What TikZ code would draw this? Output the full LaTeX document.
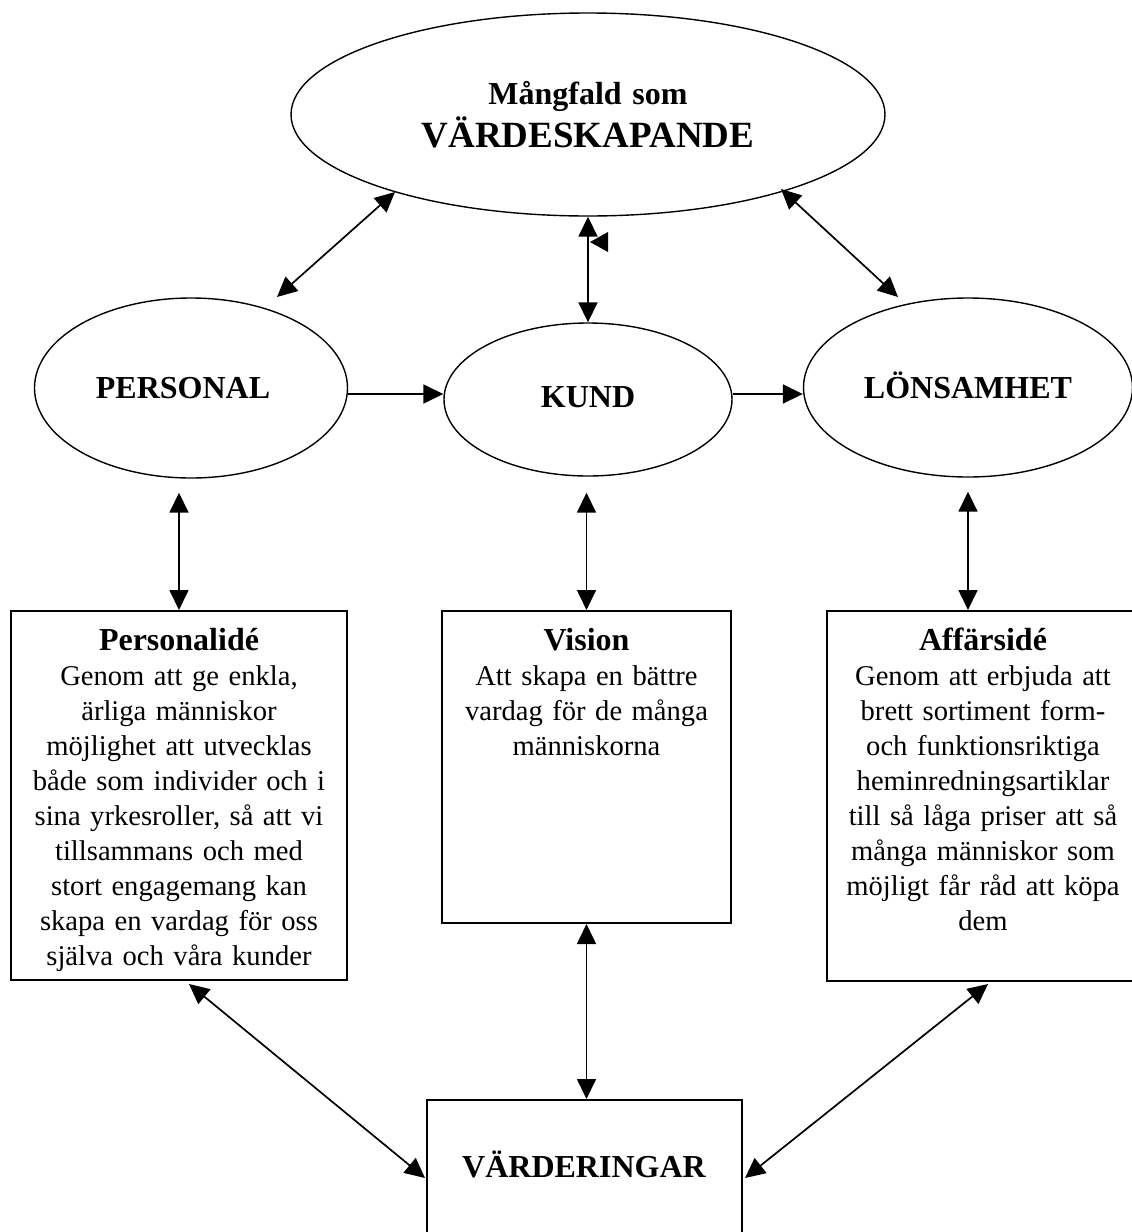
\documentclass[tikz,border=0pt]{standalone}
\usepackage{fontspec}
\setmainfont{Liberation Serif}
\usetikzlibrary{arrows.meta,shapes.geometric,calc}
\tikzset{
  ell/.style={ellipse, draw, line width=1.4pt, inner sep=0pt, font=\fontsize{32}{35}\selectfont\bfseries},
  boxnode/.style={rectangle, draw, line width=2pt, inner sep=0pt},
  boxtext/.style={anchor=base, text width=340pt, align=center, inner sep=0pt, font=\fontsize{28.6}{35}\selectfont},
  oneway/.style={line width=1.7pt, -{Triangle[length=20pt,width=19pt]}},
  twoway/.style={line width=1.7pt, {Triangle[length=20pt,width=19pt]}-{Triangle[length=20pt,width=19pt]}}
}
\newcommand{\ttl}[1]{{\fontsize{32}{35}\selectfont\bfseries #1}}
\begin{document}
\begin{tikzpicture}[x=1pt,y=-1pt]
\useasboundingbox (0,0) rectangle (1132,1232);
\clip (0,0) rectangle (1132,1232);
\fill[white] (0,0) rectangle (1132,1232);

% ellipses
\node[ell, minimum width=529pt, minimum height=203pt, text width=420pt, align=center, font=\fontsize{32}{43}\selectfont\bfseries] (top) at (588,114.5)
  {Mångfald som\\{\fontsize{37}{43}\selectfont VÄRDESKAPANDE}};
\node[ell, minimum width=313pt, minimum height=180pt, text height=21pt, text depth=0pt] (personal) at (191,388) {PERSONAL\rule{16pt}{0pt}};
\node[ell, minimum width=288pt, minimum height=153pt, text height=21pt, text depth=6pt] (kund) at (588,399.5) {KUND};
\node[ell, minimum width=329pt, minimum height=179pt, text height=21pt, text depth=0pt] (lons) at (968,387.5) {LÖNSAMHET};

% boxes
\node[boxnode, minimum width=336pt, minimum height=369pt] (pbox) at (179,795.5) {};
\node[boxnode, minimum width=289pt, minimum height=312pt] (vis) at (586.5,767) {};
\node[boxnode, minimum width=313pt, minimum height=370pt] (abox) at (983.5,796) {};
\node[boxnode, minimum width=315pt, minimum height=160pt] (vbox) at (584.5,1180) {};

% box texts
\node[boxtext] (ptext) at (179,650) {\ttl{Personalidé}\\Genom att ge enkla,\\ärliga människor\\möjlighet att utvecklas\\både som individer och i\\sina yrkesroller, så att vi\\tillsammans och med\\stort engagemang kan\\skapa en vardag för oss\\själva och våra kunder};
\node[boxtext] (vtext) at (586.5,650) {\ttl{Vision}\\Att skapa en bättre\\vardag för de många\\människorna};
\node[boxtext] (atext) at (983,650) {\ttl{Affärsidé}\\Genom att erbjuda att\\brett sortiment form-\\och funktionsriktiga\\heminredningsartiklar\\till så låga priser att så\\många människor som\\möjligt får råd att köpa\\dem};
\node[anchor=base, inner sep=0pt, font=\fontsize{32}{35}\selectfont\bfseries] (vlabel) at (584,1177) {VÄRDERINGAR};

% connectors
\draw[twoway] ($(personal.center)+(86,-91)$) -- ($(top.center)+(-193,77.5)$);
\draw[twoway] ($(top.center)+(193,74.5)$) -- ($(lons.center)+(-70,-90.5)$);
\draw[twoway] (kund.north) -- (kund.north |- top.south);
\fill (590,242) -- (608,232) -- (608,252) -- cycle;

\draw[oneway] ([yshift=-6pt]personal.east) -- ([yshift=-6pt]personal.east -| kund.west);
\draw[oneway] ([yshift=5.5pt]kund.east) -- ([yshift=5.5pt]kund.east -| lons.west);

\draw[twoway, shorten >=14pt] (pbox.north) -- (pbox.north |- personal.south);
\draw[twoway, shorten >=16pt] (vis.north) -- (vis.north |- kund.south);
\draw[twoway, shorten <=14pt] (lons.south) -- (lons.south |- abox.north);

\draw[twoway] ($(pbox.south)+(10,3)$) -- ($(vbox.west)+(-1,-2)$);
\draw[twoway] (vis.south) -- (vis.south |- vbox.north);
\draw[twoway] ($(abox.south)+(4.5,2)$) -- ($(vbox.east)+(2,-2)$);
\end{tikzpicture}
\end{document}
